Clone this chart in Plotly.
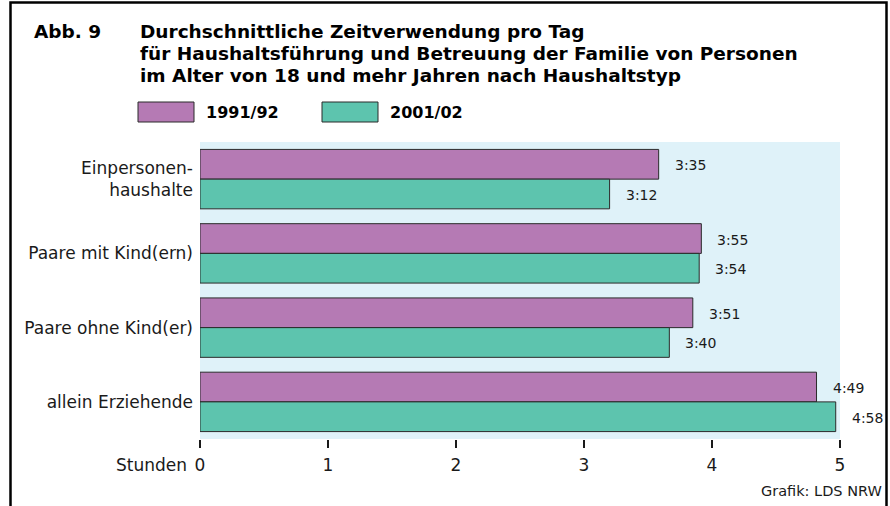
import plotly.graph_objects as go

# Haushaltstypen (von oben nach unten) und Zeitverwendung in Stunden:Minuten
categories = ["Einpersonen-<br>haushalte", "Paare mit Kind(ern)", "Paare ohne Kind(er)", "allein Erziehende"]
series_names = ["1991/92", "2001/02"]
values_1991 = ["3:35", "3:55", "3:51", "4:49"]
values_2001 = ["3:12", "3:54", "3:40", "4:58"]
x_ticks = [0, 1, 2, 3, 4, 5]

PURPLE = "#b57ab4"
TEAL = "#5dc4ae"
BG = "#dff2f9"
FONT = "DejaVu Sans"
INK = "#1a1a1a"

W, H = 890, 506
L, R, T, B = 200, 50, 142, 67
PW, PH = W - L - R, H - T - B


def hours(hm):
    h, m = hm.split(":")
    return int(h) + int(m) / 60


def px(x):
    return (x - L) / PW


def py(y):
    return (H - B - y) / PH


idx = list(range(len(categories)))
bar_w = 0.4
fig = go.Figure()
for name, vals, color, off in [(series_names[0], values_1991, PURPLE, -0.2),
                               (series_names[1], values_2001, TEAL, 0.2)]:
    fig.add_trace(go.Bar(
        name=name, orientation="h",
        x=[hours(v) for v in vals], y=[i + off for i in idx], width=bar_w,
        marker=dict(color=color, line=dict(color="#2b2b2b", width=1)),
        showlegend=False, hoverinfo="skip",
    ))
    for i, v in zip(idx, vals):
        fig.add_annotation(x=hours(v), y=i + off, text=v, showarrow=False,
                           xanchor="left", yanchor="middle", xshift=14, yshift=-1,
                           font=dict(family=FONT, size=14, color=INK))

# Titel
title_font = dict(family=FONT, size=18.5, color="#000")
fig.add_annotation(xref="paper", yref="paper", x=px(32), y=py(32), text="<b>Abb. 9</b>",
                   showarrow=False, xanchor="left", yanchor="middle", font=title_font)
title_lines = ["Durchschnittliche Zeitverwendung pro Tag",
               "für Haushaltsführung und Betreuung der Familie von Personen",
               "im Alter von 18 und mehr Jahren nach Haushaltstyp"]
for k, line in enumerate(title_lines):
    fig.add_annotation(xref="paper", yref="paper", x=px(138), y=py(32 + 21.6 * k),
                       text=f"<b>{line}</b>", showarrow=False, xanchor="left",
                       yanchor="middle", font=title_font)

# Legende
shapes = []
for name, color, x0 in [(series_names[0], PURPLE, 138), (series_names[1], TEAL, 322)]:
    shapes.append(dict(type="rect", xref="paper", yref="paper",
                       x0=px(x0), x1=px(x0 + 56), y0=py(122), y1=py(102),
                       fillcolor=color, line=dict(color="#2b2b2b", width=1)))
    fig.add_annotation(xref="paper", yref="paper", x=px(x0 + 66), y=py(112),
                       text=f"<b>{name}</b>", showarrow=False, xanchor="left", yanchor="middle",
                       font=dict(family=FONT, size=16, color="#000"))

# Rahmen (unten offen)
shapes.append(dict(type="rect", xref="paper", yref="paper",
                   x0=px(10.5), x1=px(886.5), y0=py(530), y1=py(2.5),
                   line=dict(color="#000", width=2.5)))

fig.add_annotation(xref="paper", yref="paper", x=0, y=py(465), xshift=-11,
                   text="Stunden", showarrow=False, xanchor="right", yanchor="middle",
                   font=dict(family=FONT, size=17, color=INK))
fig.add_annotation(xref="paper", yref="paper", x=px(884), y=py(491),
                   text="Grafik: LDS NRW", showarrow=False, xanchor="right", yanchor="middle",
                   font=dict(family=FONT, size=14.5, color=INK))

fig.update_layout(
    width=W, height=H, margin=dict(l=L, r=R, t=T, b=B, pad=0),
    paper_bgcolor="white", plot_bgcolor=BG,
    barmode="overlay", shapes=shapes,
    font=dict(family=FONT, size=17, color=INK),
)
fig.update_xaxes(range=[0, 5], tickvals=x_ticks, ticks="outside", ticklen=8, tickwidth=1.5,
                 tickcolor=INK, showgrid=False, zeroline=False, showline=False,
                 tickfont=dict(size=17), ticklabelstandoff=3, fixedrange=True)
fig.update_yaxes(range=[3.5, -0.5], tickvals=idx, ticktext=categories, ticks="",
                 showgrid=False, zeroline=False, showline=False,
                 tickfont=dict(size=17), ticklabelstandoff=6, fixedrange=True)

fig.write_html("out.html", config={"displayModeBar": False})
